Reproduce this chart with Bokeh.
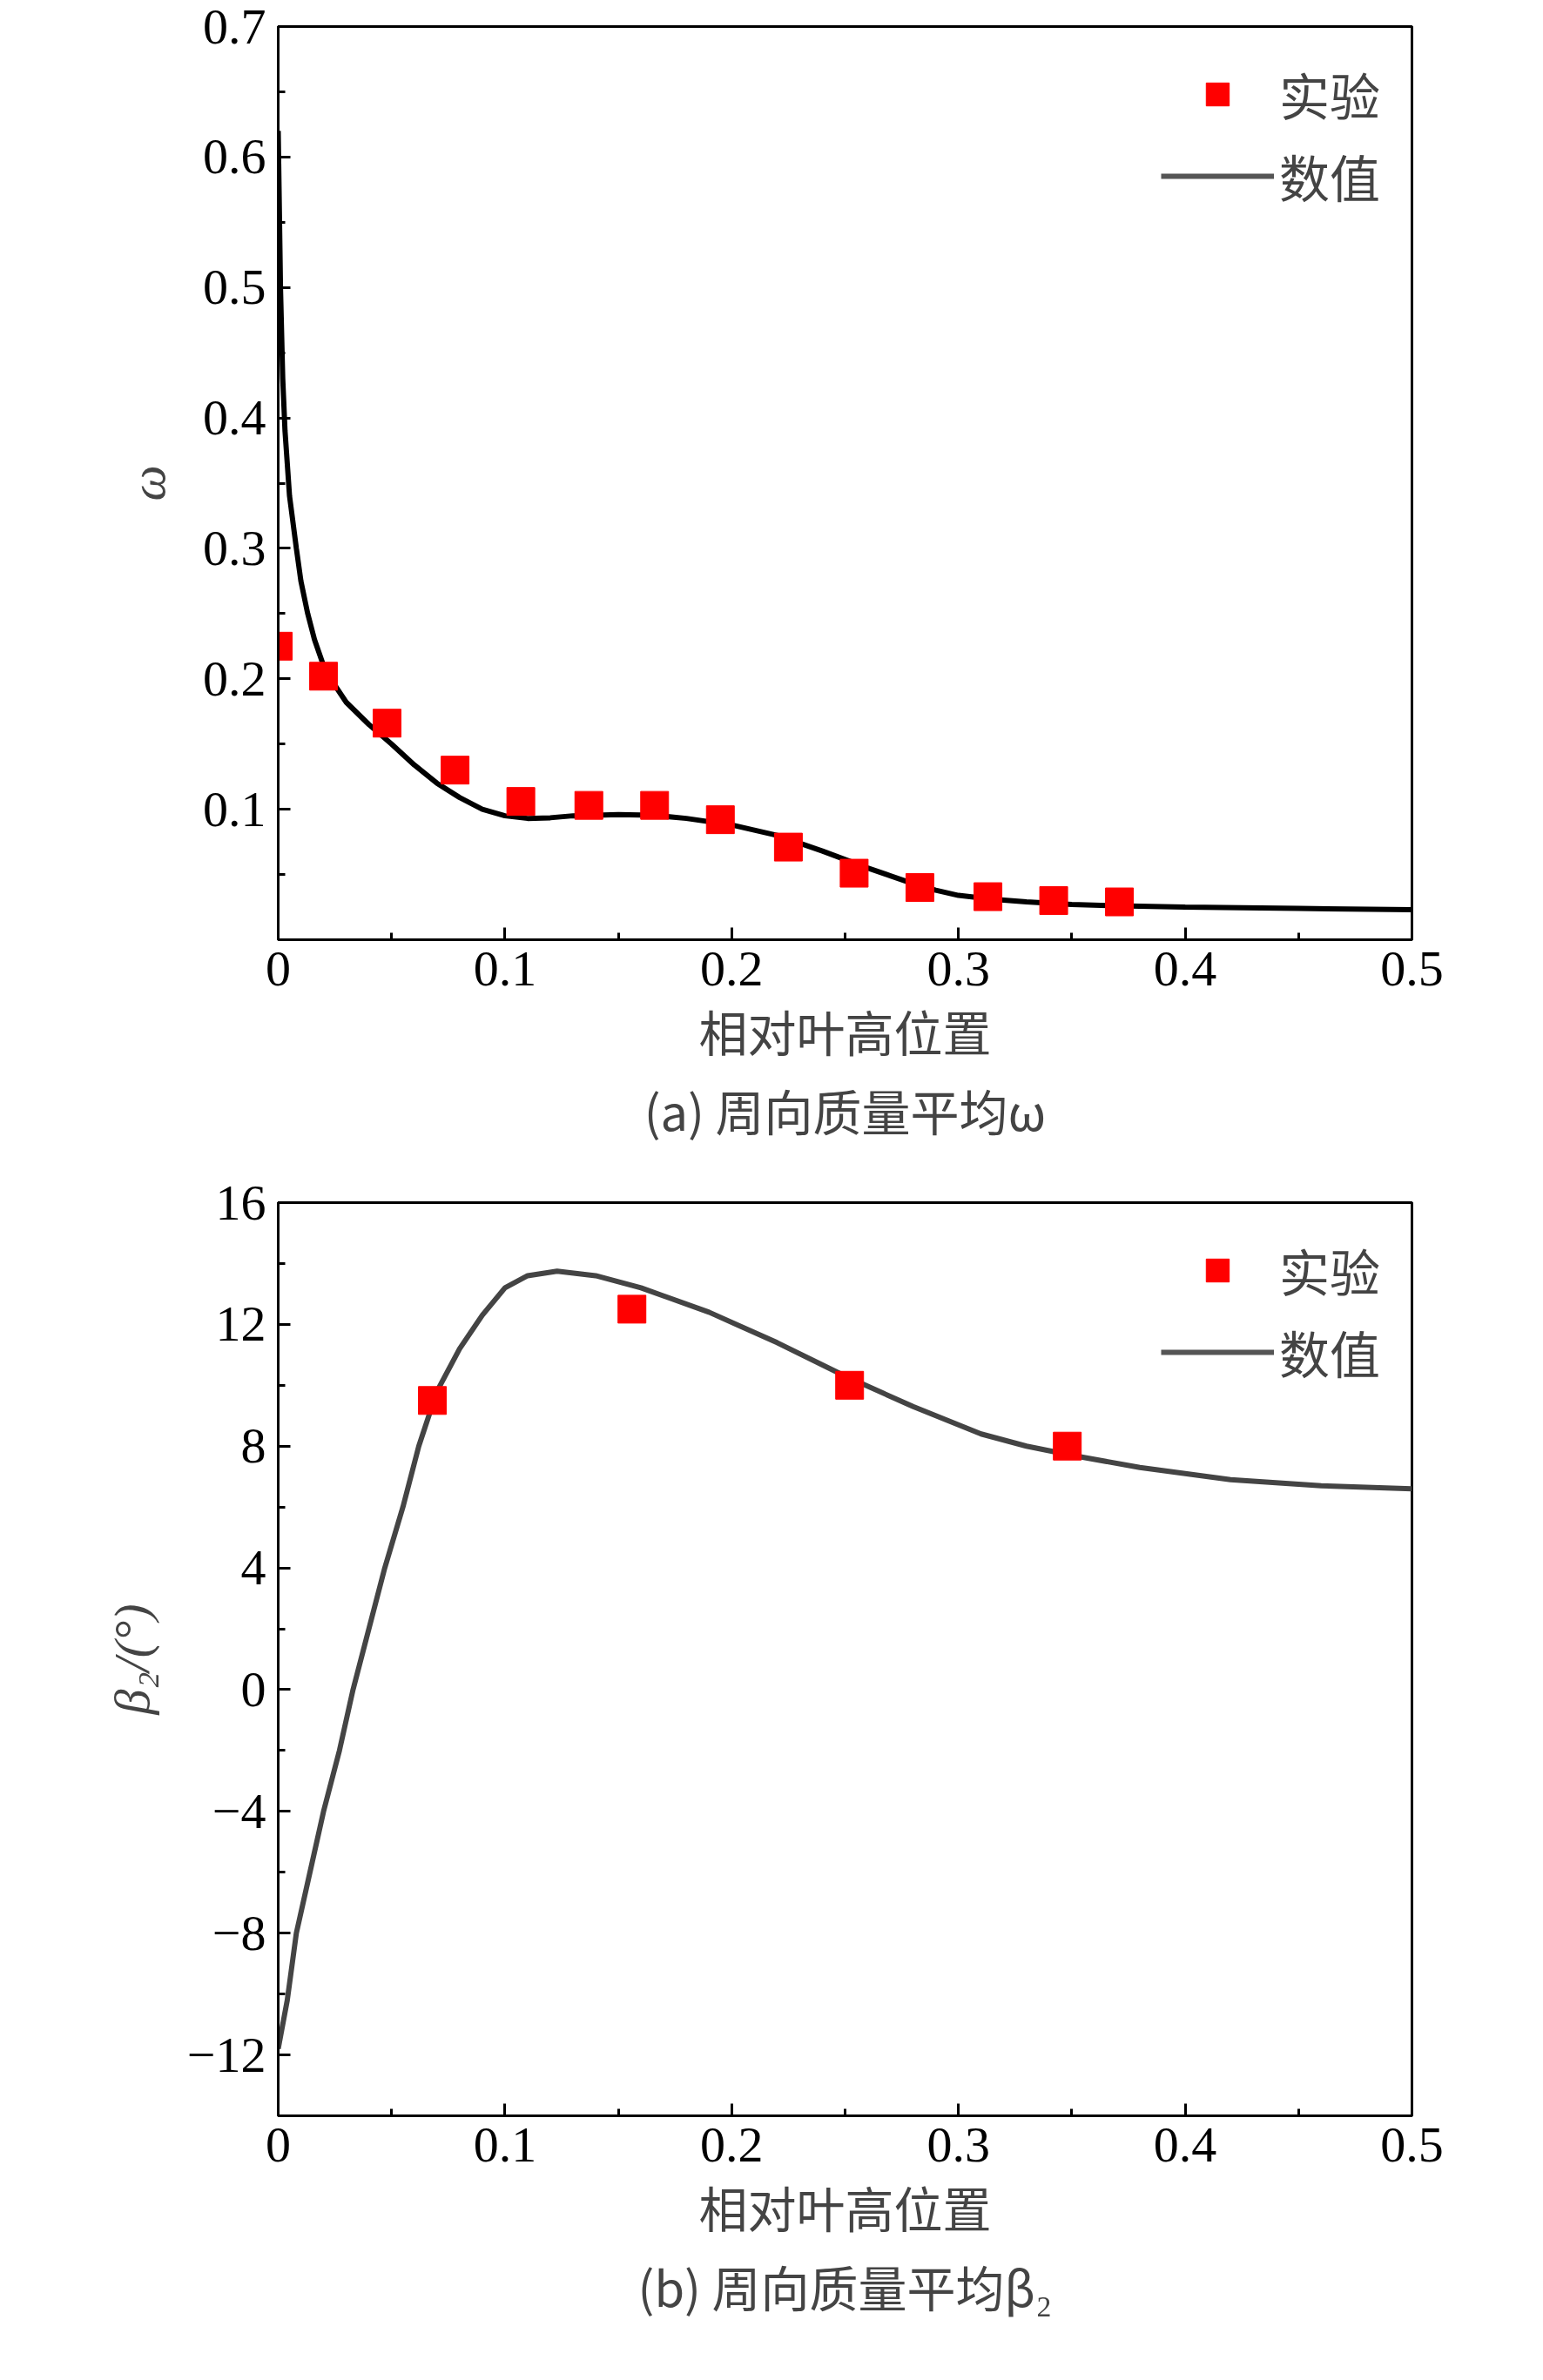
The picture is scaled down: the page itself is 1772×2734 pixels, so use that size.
from bokeh.plotting import figure
from bokeh.models import FixedTicker, Title, Legend, LegendItem
from bokeh.layouts import column
from bokeh.embed import file_html
from bokeh.resources import INLINE

# panel (a)
num_a_x = [0.0, 0.001, 0.002, 0.003, 0.005, 0.008, 0.01, 0.013, 0.016, 0.02, 0.025, 0.03, 0.04, 0.05, 0.06, 0.07,
           0.08, 0.09, 0.1, 0.11, 0.12, 0.13, 0.15, 0.165, 0.18, 0.2,
           0.22, 0.24, 0.26, 0.27, 0.28, 0.29, 0.3, 0.315, 0.33, 0.35, 0.37, 0.4, 0.45, 0.5]
num_a_y = [0.62, 0.5, 0.43, 0.39, 0.34, 0.3, 0.275, 0.25, 0.23, 0.21, 0.195, 0.182, 0.165, 0.15, 0.134, 0.12,
           0.109, 0.1, 0.095, 0.093, 0.0935, 0.095, 0.096, 0.0955, 0.093, 0.088,
           0.08, 0.068, 0.055, 0.049, 0.043, 0.038, 0.034, 0.031, 0.029, 0.027, 0.026, 0.025, 0.024, 0.023]
exp_a_x = [0.0, 0.02, 0.048, 0.078, 0.107, 0.137, 0.166, 0.195, 0.225, 0.254, 0.283, 0.313, 0.342, 0.371]
exp_a_y = [0.225, 0.202, 0.166, 0.130, 0.106, 0.103, 0.103, 0.092, 0.071, 0.051, 0.040, 0.033, 0.030, 0.029]
# panel (b)
num_b_x = [0.0, 0.004, 0.008, 0.014, 0.02, 0.027, 0.033, 0.04, 0.047, 0.055, 0.062, 0.07, 0.08, 0.09, 0.1, 0.11,
           0.123, 0.14, 0.16, 0.19, 0.22,
           0.25, 0.28, 0.31, 0.33, 0.35, 0.38, 0.42, 0.46, 0.5]
num_b_y = [-11.8, -10.2, -8, -6, -4, -2, 0, 2, 4, 6, 8, 9.8, 11.2, 12.3, 13.2, 13.6,
           13.75, 13.6, 13.2, 12.4, 11.4,
           10.3, 9.3, 8.4, 8.0, 7.7, 7.3, 6.9, 6.7, 6.6]
exp_b_x = [0.068, 0.156, 0.252, 0.348]
exp_b_y = [9.5, 12.5, 10.0, 8.0]

x_ticks = [0, 0.1, 0.2, 0.3, 0.4, 0.5]
x_labels = ["0", "0.1", "0.2", "0.3", "0.4", "0.5"]
ya_ticks = [0.1, 0.2, 0.3, 0.4, 0.5, 0.6, 0.7]
yb_ticks = [-12, -8, -4, 0, 4, 8, 12, 16]

SERIF = "Liberation Serif"
CJK = "Noto Sans CJK SC"


def make(yrange, yticks, yminor, ylabels, ylabel, caption, line_color, num_x, num_y, ex, ey, top, bottom):
    p = figure(frame_width=1302, frame_height=1049, x_range=(0, 0.5), y_range=yrange,
               output_backend="svg", toolbar_location=None,
               min_border_left=319, min_border_right=135, min_border_top=top, min_border_bottom=bottom)
    p.grid.visible = False
    p.outline_line_color = "black"
    p.outline_line_width = 3
    p.xaxis.ticker = FixedTicker(ticks=x_ticks, minor_ticks=[i * 0.05 for i in range(11)])
    p.xaxis.major_label_overrides = dict(zip(x_ticks, x_labels))
    p.yaxis.ticker = FixedTicker(ticks=yticks, minor_ticks=yminor)
    p.yaxis.major_label_overrides = dict(zip(yticks, ylabels))
    for ax in (p.xaxis[0], p.yaxis[0]):
        ax.axis_line_width = 3
        ax.major_tick_in = 14
        ax.major_tick_out = 0
        ax.minor_tick_in = 8
        ax.minor_tick_out = 0
        ax.major_tick_line_width = 3
        ax.minor_tick_line_width = 3
        ax.major_label_text_font = SERIF
        ax.major_label_text_font_size = "58px"
        ax.major_label_text_color = "black"
        ax.major_label_standoff = 14
    p.xaxis.axis_label = "相对叶高位置"
    p.xaxis.axis_label_text_font = CJK
    p.xaxis.axis_label_text_font_style = "normal"
    p.xaxis.axis_label_text_font_size = "56px"
    p.xaxis.axis_label_standoff = 8
    p.yaxis.axis_label = ylabel
    p.yaxis.axis_label_text_font = SERIF
    p.yaxis.axis_label_text_font_style = "italic"
    p.yaxis.axis_label_text_font_size = "58px"
    p.yaxis.axis_label_standoff = 28
    p.add_layout(Title(text=caption, text_font=CJK, text_font_size="56px", text_font_style="normal",
                       align="center", offset=60), "below")
    p.line(num_x, num_y, line_color=line_color, line_width=6)
    sq = p.scatter(ex, ey, marker="square", size=32, fill_color="#ff0000", line_color="#ff0000")
    lg_line = p.line([0], [yrange[0] - 100], line_color="#555555", line_width=6)
    leg = Legend(items=[LegendItem(label="实验", renderers=[sq]), LegendItem(label="数值", renderers=[lg_line])],
                 location="top_right", border_line_color=None, background_fill_alpha=0,
                 label_text_font=CJK, label_text_font_size="58px", glyph_width=130, glyph_height=66,
                 spacing=10, margin=36, label_standoff=6)
    p.add_layout(leg)
    return p


p1 = make((0, 0.7), ya_ticks, [i * 0.05 for i in range(15)], ["0.1", "0.2", "0.3", "0.4", "0.5", "0.6", "0.7"],
          "ω", "(a) 周向质量平均ω", "black", num_a_x, num_a_y, exp_a_x, exp_a_y, 30, 238)
p2 = make((-14, 16), yb_ticks, list(range(-14, 17, 2)), ["\u221212", "\u22128", "\u22124", "0", "4", "8", "12", "16"],
          "β₂/(°)", "(b) 周向质量平均β₂", "#444444", num_b_x, num_b_y, exp_b_x, exp_b_y, 62, 240)

open("out.html", "w").write(file_html(column(p1, p2, spacing=0), INLINE))
